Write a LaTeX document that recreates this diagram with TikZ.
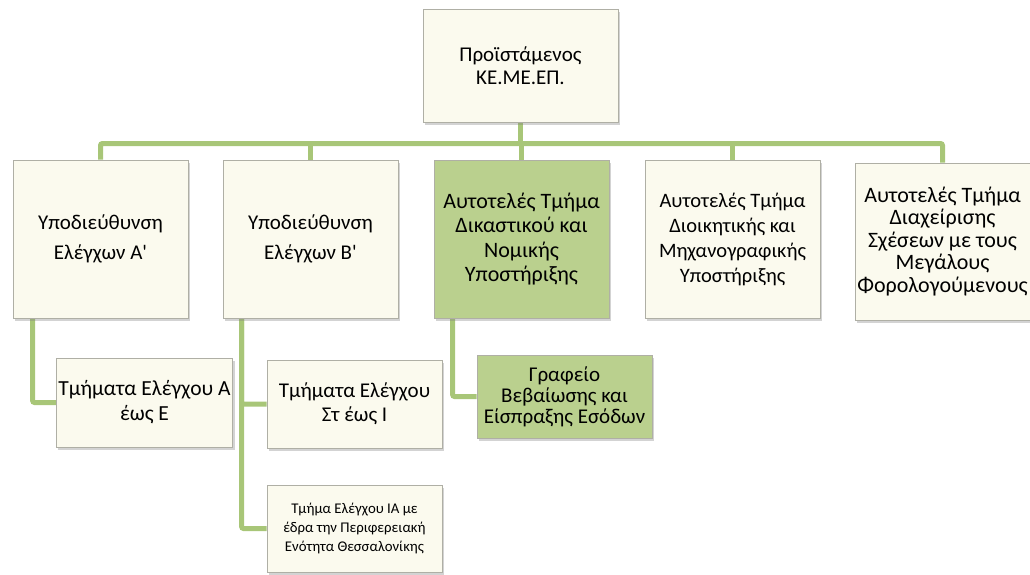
\documentclass[tikz,border=0pt]{standalone}
\usepackage{fontspec}
\setmainfont{Carlito}
\usetikzlibrary{positioning,shadows,calc,backgrounds}
\definecolor{kcream}{RGB}{251,250,238}
\definecolor{kgreen}{RGB}{186,208,142}
\definecolor{kline}{RGB}{168,198,120}
\definecolor{kedge}{RGB}{175,175,165}

\tikzset{
  unit/.style={draw=kedge, line width=0.8pt, fill=kcream, align=center,
    minimum width=175pt, inner sep=2pt,
    drop shadow={shadow xshift=2pt, shadow yshift=-3pt, opacity=0.35},
    font=\fontsize{21}{26}\selectfont},
  gunit/.style={unit, fill=kgreen},
  conn/.style={kline, line width=5pt, rounded corners=2pt}
}

\begin{document}
\begin{tikzpicture}[x=1pt,y=1pt]
    \useasboundingbox (0,0) rectangle (1030,-574);

    % head of the unit
    \node [unit, minimum width=195pt, minimum height=113pt, font=\fontsize{21}{23}\selectfont] (head) at (520.5,-65.5)
      {Προϊστάμενος\\ΚΕ.ΜΕ.ΕΠ.};

    % second level
    \node [unit, minimum height=158pt] (subA) at (100.5,-239)
      {Υποδιεύθυνση\\[4pt]Ελέγχων Α\textquotesingle};
    \node [unit, minimum height=158pt] (subB) at (310.5,-239)
      {Υποδιεύθυνση\\[4pt]Ελέγχων Β\textquotesingle};
    \node [gunit, minimum height=158pt, font=\fontsize{22}{24.5}\selectfont] (legal) at (521.5,-239)
      {Αυτοτελές Τμήμα\\Δικαστικού και\\Νομικής\\Υποστήριξης};
    \node [unit, minimum height=158pt, font=\fontsize{20.5}{25}\selectfont] (admin) at (732.5,-239)
      {Αυτοτελές Τμήμα\\Διοικητικής και\\Μηχανογραφικής\\Υποστήριξης};
    \node [unit, minimum height=157pt, font=\fontsize{22}{22.5}\selectfont] (large) at (942.5,-241.5)
      {Αυτοτελές Τμήμα\\Διαχείρισης\\Σχέσεων με τους\\Μεγάλους\\Φορολογούμενους};

    % third level
    \node [unit, minimum height=89pt, font=\fontsize{21.5}{25}\selectfont] (tmA) at (144.5,-402.5)
      {Τμήματα Ελέγχου Α\\έως Ε};
    \node [unit, minimum height=88pt, font=\fontsize{21}{24}\selectfont] (tmB) at (354.5,-404)
      {Τμήματα Ελέγχου\\Στ έως Ι};
    \node [unit, minimum height=87pt, font=\fontsize{14.8}{19}\selectfont] (tmIA) at (354.5,-528.5)
      {Τμήμα Ελέγχου ΙΑ με\\έδρα την Περιφερειακή\\Ενότητα Θεσσαλονίκης};
    \node [gunit, minimum height=83pt, font=\fontsize{21}{21}\selectfont] (office) at (564.5,-396.5)
      {Γραφείο\\Βεβαίωσης και\\Είσπραξης Εσόδων};

    \begin{scope}[on background layer]
    \coordinate (bus) at (522,-143.5);
    \draw [conn] (head.south) -- (head.south |- bus);
    \draw [conn] (subA.north) |- (bus) -| (large.north);
    \foreach \n in {subB, legal, admin}
      \draw [conn] (\n.north) -- (\n.north |- bus);

    \coordinate (lineA) at ($(subA.south west)+(20,0)$);
    \coordinate (lineB) at ($(subB.south west)+(19,0)$);
    \coordinate (lineC) at ($(legal.south west)+(19,0)$);
    \draw [conn] (lineA) |- (tmA.west);
    \draw [conn] (lineB) |- (tmB.west);
    \draw [conn] (lineB) |- (tmIA.west);
    \draw [conn] (lineC) |- (office.west);
    \end{scope}
\end{tikzpicture}
\end{document}
